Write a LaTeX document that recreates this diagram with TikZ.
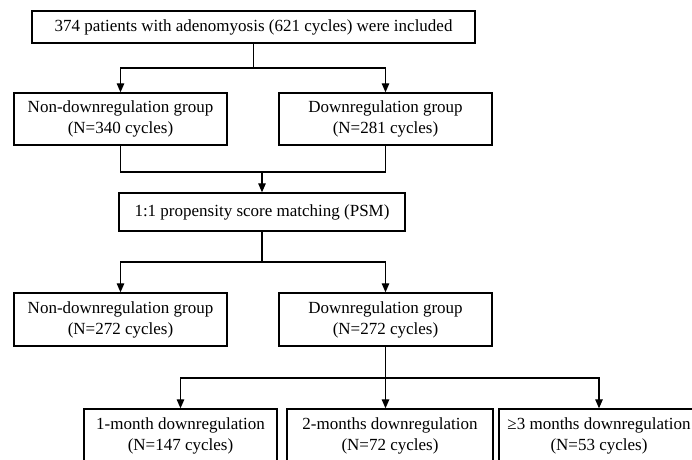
\documentclass[tikz,border=0pt]{standalone}
\usepackage{fontspec}
\setmainfont{Liberation Serif}
\usetikzlibrary{arrows.meta}
\begin{document}
\begin{tikzpicture}[x=1pt,y=-1pt,
  box/.style={draw, line width=1.4pt, align=center, inner sep=0pt,
    font=\fontsize{17}{21}\selectfont},
  arr/.style={line width=1.3pt, -{Triangle[length=9pt,width=7.5pt]}},
  ln/.style={line width=1.3pt}]
\useasboundingbox (0,0) rectangle (692,459);
\clip (0,0) rectangle (692,459);
% boxes
\node[box, minimum width=443pt, minimum height=32pt] (top) at (253.5,27)
  {374 patients with adenomyosis (621 cycles) were included};
\node[box, minimum width=213pt, minimum height=52pt] (n1) at (120.5,119)
  {Non-downregulation group\\(N=340 cycles)};
\node[box, minimum width=213pt, minimum height=52pt] (d1) at (385.5,119)
  {Downregulation group\\(N=281 cycles)};
\node[box, minimum width=286pt, minimum height=38pt] (psm) at (262,212)
  {1:1 propensity score matching (PSM)};
\node[box, minimum width=213pt, minimum height=53pt] (n2) at (120.5,319.5)
  {Non-downregulation group\\(N=272 cycles)};
\node[box, minimum width=213pt, minimum height=53pt] (d2) at (385.5,319.5)
  {Downregulation group\\(N=272 cycles)};
\node[box, minimum width=193pt, minimum height=54pt] (m1) at (180.5,436)
  {1-month downregulation\\(N=147 cycles)};
\node[box, minimum width=206pt, minimum height=54pt] (m2) at (390,436)
  {2-months downregulation\\(N=72 cycles)};
\node[box, minimum width=200pt, minimum height=54pt] (m3) at (599,436)
  {≥3 months downregulation\\(N=53 cycles)};
% junctions
\coordinate (j1) at (253.5,68);
\coordinate (j2) at (262,172);
\coordinate (j3) at (262,262);
\coordinate (j4) at (385.5,378);
% connectors
\draw[ln] (top.south) -- (j1);
\draw[arr] (j1) -| (n1.north);
\draw[arr] (j1) -| (d1.north);
\draw[ln] (n1.south) |- (j2);
\draw[ln] (d1.south) |- (j2);
\draw[arr] (j2) -- (psm.north);
\draw[ln] (psm.south) -- (j3);
\draw[arr] (j3) -| (n2.north);
\draw[arr] (j3) -| (d2.north);
\draw[ln] (d2.south) -- (j4);
\draw[arr] (j4) -| (m1.north);
\draw[arr] (j4) -- (j4 |- m2.north);
\draw[arr] (j4) -| (m3.north);
\end{tikzpicture}
\end{document}
